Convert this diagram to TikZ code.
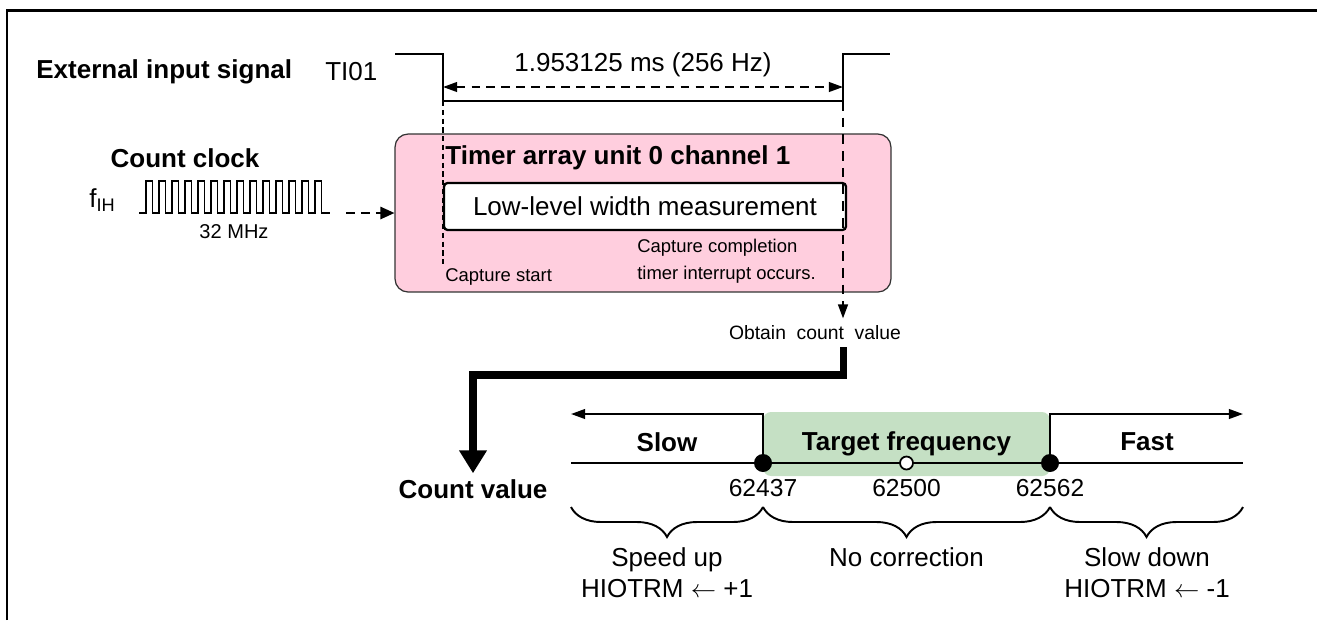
\documentclass[tikz,border=0pt]{standalone}
\usepackage{fontspec}
\setmainfont{Liberation Sans}
\usetikzlibrary{arrows.meta, decorations.pathreplacing}
\definecolor{taupink}{RGB}{255,206,222}
\definecolor{tgtgreen}{RGB}{197,224,196}

\begin{document}
\begin{tikzpicture}[x=0.02cm,y=-0.02cm,
  lbl/.style={font=\fontsize{14.8}{17.6}\selectfont},
  lblb/.style={font=\fontsize{14.8}{17.6}\selectfont\bfseries},
  note/.style={font=\fontsize{10.5}{15.2}\selectfont},
  num/.style={font=\fontsize{14}{17}\selectfont},
  sig/.style={line width=1.4pt},
  axis/.style={line width=1.1pt},
  dsh/.style={line width=1.1pt, dash pattern=on 5pt off 3.5pt},
  tip/.style={-{Triangle[length=8pt,width=5.5pt]}},
  taubox/.style={draw=black!80, fill=taupink, line width=0.7pt, rounded corners=0.26cm,
    minimum width=9.92cm, minimum height=3.16cm},
  lwbox/.style={draw, fill=white, line width=1.3pt, rounded corners=2pt,
    minimum width=8.04cm, minimum height=0.94cm, lbl},
  tgtbox/.style={fill=tgtgreen, rounded corners=0.16cm, minimum width=5.74cm,
    minimum height=1.28cm, lblb},
  dot/.style={circle, fill=black, inner sep=0, minimum size=0.36cm},
  odot/.style={circle, draw, fill=white, line width=1pt, inner sep=0, minimum size=0.26cm},
  brc/.style={decorate, decoration={brace, amplitude=0.6cm}, line width=1.1pt}]
  \useasboundingbox (0,0) rectangle (1317,620);
  % frame
  \draw[line width=1.7pt] (7,620) -- (7,10) -- (1317,10);

  % external input signal
  \node[lblb, anchor=west, inner sep=0] (ext) at (36,72) {External input signal};
  \node[lbl, anchor=west, inner sep=0] (ti) at (325,72) {TI01};
  \draw[sig] (395,54) -- (443,54) -- (443,101) coordinate (flow)
    -- (843,101) coordinate (rlow) -- (843,54) -- (890,54);
  \coordinate (dl) at (443,87);
  \coordinate (dr) at (843,87);
  \draw[dsh, {Triangle[length=8pt,width=5.5pt]}-{Triangle[length=8pt,width=5.5pt]}] (dl) -- (dr);
  \node[lbl] (per) at (643,65) {1.953125 ms (256 Hz)};

  % timer array unit
  \node[taubox] (tau) at (643,213) {};
  \node[lblb, anchor=west, inner sep=0] (tn) at (445,158) {Timer array unit 0 channel 1};
  \node[lwbox] (lw) at (645,206.5) {Low-level width measurement};
  \node[note, anchor=west, inner sep=0, align=left] (cc) at (637,261.5) {Capture completion\\timer interrupt occurs.};
  \node[note, anchor=west, inner sep=0] (cs) at (445,277) {Capture start};
  \coordinate (csl) at (443,264);
  \draw[line width=0.6pt, dash pattern=on 3pt off 2pt] (flow) -- (csl);

  % count clock
  \node[lblb] (ck) at (185,158) {Count clock};
  \node[lbl, anchor=west, inner sep=0] (fih) at (89,200) {f\textsubscript{IH}};
  \draw[line width=1.1pt] (139,213) -- (146,213)
    \foreach \i in {0,...,13} { -- ++(0,-32) -- ++(6.5,0) -- ++(0,32) -- ++(6.5,0) } -- (330,213);
  \node[note, font=\fontsize{11.4}{14}\selectfont] (mhz) at (234,232) {32 MHz};
  \coordinate (ckend) at (346,213);
  \draw[dsh, -{Triangle[length=8pt,width=7pt]}] (ckend) -- (tau.west);

  % obtain count value
  \node[note, font=\fontsize{11}{14}\selectfont, inner sep=0] (obt) at (815,333) {Obtain\ \ count\ \ value};
  \draw[line width=1.3pt, dash pattern=on 5.5pt off 4pt, tip] (rlow) -- ([yshift=4pt]rlow |- obt.north);
  \node[lblb] (cv) at (473,489) {Count value};
  \coordinate (bend) at (473,375);
  \draw[line width=4pt, -{Triangle[length=13pt,width=15pt]}] ([yshift=-4pt]rlow |- obt.south) |- (bend) -- (cv.north);

  % count value scale
  \node[tgtbox] (tf) at (906.5,444) {Target frequency};
  \node[lblb] (slow) at (667,442) {Slow};
  \node[lblb] (fast) at (1147,442) {Fast};
  \coordinate (al) at (571,463);
  \coordinate (ar) at (1243,463);
  \draw[axis] (al) -- (ar);
  \node[dot] (d1) at (763,463) {};
  \node[dot] (d2) at (1050,463) {};
  \node[odot] (d0) at (906.5,463) {};
  \coordinate (sl) at (571,414);
  \coordinate (fs) at (1243,414);
  \draw[axis, tip] (d1.north) |- (sl);
  \draw[axis, tip] (d2.north) |- (fs);
  \node[num] (n1) at (763,488) {62437};
  \node[num] (n0) at (906.5,488) {62500};
  \node[num] (n2) at (1050,488) {62562};

  % braces
  \foreach \n/\x in {b0/571, b1/763, b2/1050, b3/1243}
    \coordinate (\n) at (\x,507);
  \draw[brc] (b1) -- (b0);
  \draw[brc] (b2) -- (b1);
  \draw[brc] (b3) -- (b2);
  \node[lbl, align=center] (su) at (667,572.5) {Speed up\\HIOTRM \(\leftarrow\) +1};
  \node[lbl] (nc) at (906.5,557) {No correction};
  \node[lbl, align=center] (sd) at (1147,572.5) {Slow down\\HIOTRM \(\leftarrow\) -1};
\end{tikzpicture}
\end{document}
